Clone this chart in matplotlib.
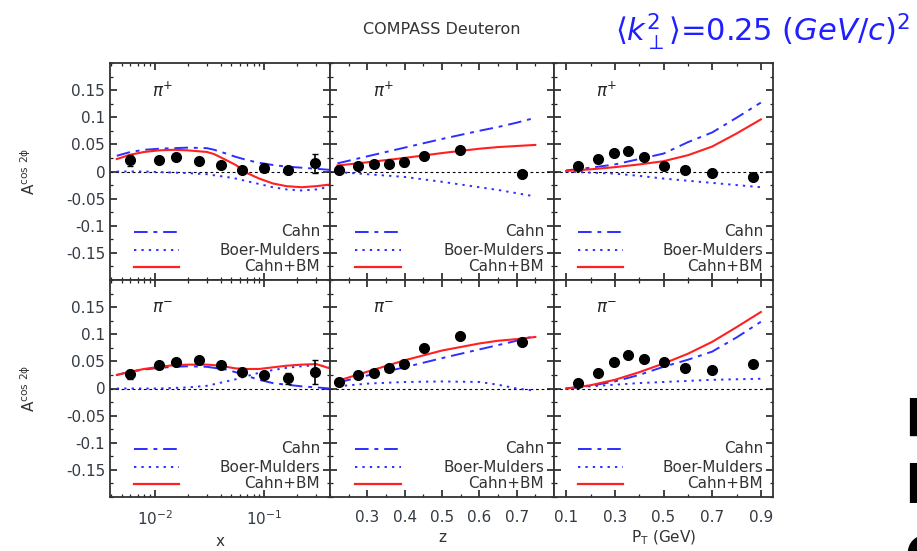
import matplotlib
matplotlib.use('Agg')
import matplotlib.pyplot as plt
from matplotlib.ticker import MultipleLocator, FixedLocator, NullFormatter, LogLocator

plt.rcParams['axes.unicode_minus'] = False

# x panel (log scale) - curve grid and data
x_curve = [0.0045, 0.006, 0.008, 0.011, 0.015, 0.02, 0.03, 0.035, 0.045, 0.055,
           0.07, 0.09, 0.12, 0.16, 0.22, 0.3, 0.4]
cahn_x_plus = [0.029, 0.036, 0.040, 0.042, 0.043, 0.044, 0.043, 0.040, 0.033, 0.027,
               0.021, 0.016, 0.012, 0.009, 0.007, 0.005, 0.003]
bm_x_plus = [0.000, 0.000, 0.000, -0.001, -0.002, -0.003, -0.005, -0.007, -0.010, -0.013,
             -0.018, -0.023, -0.029, -0.033, -0.035, -0.033, -0.028]
sum_x_plus = [0.023, 0.031, 0.036, 0.039, 0.040, 0.039, 0.036, 0.032, 0.021, 0.012,
              -0.003, -0.013, -0.022, -0.027, -0.029, -0.027, -0.024]
cahn_x_minus = [0.025, 0.031, 0.035, 0.038, 0.040, 0.041, 0.040, 0.038, 0.035, 0.030,
                0.023, 0.016, 0.010, 0.007, 0.004, 0.002, 0.000]
bm_x_minus = [0.000, 0.000, 0.000, 0.000, 0.001, 0.002, 0.005, 0.008, 0.013, 0.017,
              0.023, 0.029, 0.034, 0.038, 0.041, 0.043, 0.040]
sum_x_minus = [0.025, 0.031, 0.036, 0.040, 0.043, 0.044, 0.044, 0.043, 0.040, 0.037,
               0.036, 0.036, 0.039, 0.042, 0.044, 0.045, 0.037]

x_data = [0.0059, 0.0109, 0.0158, 0.0252, 0.040, 0.063, 0.100, 0.165, 0.29]
a_x_plus = [0.021, 0.022, 0.026, 0.020, 0.012, 0.002, 0.006, 0.002, 0.015]
err_x_plus = [0.010, 0.004, 0.004, 0.004, 0.004, 0.004, 0.005, 0.007, 0.018]
a_x_minus = [0.026, 0.043, 0.049, 0.052, 0.043, 0.030, 0.025, 0.019, 0.030]
err_x_minus = [0.008, 0.004, 0.004, 0.004, 0.004, 0.004, 0.006, 0.010, 0.022]

# z panel
z_curve = [0.22, 0.3, 0.4, 0.5, 0.6, 0.65, 0.7, 0.75]
cahn_z_plus = [0.015, 0.028, 0.044, 0.060, 0.075, 0.082, 0.090, 0.099]
bm_z_plus = [-0.001, -0.005, -0.010, -0.019, -0.029, -0.034, -0.040, -0.046]
sum_z_plus = [0.011, 0.017, 0.025, 0.034, 0.042, 0.045, 0.047, 0.049]
cahn_z_minus = [0.011, 0.024, 0.039, 0.056, 0.072, 0.080, 0.088, 0.097]
bm_z_minus = [0.004, 0.009, 0.012, 0.013, 0.012, 0.007, 0.000, -0.004]
sum_z_minus = [0.014, 0.031, 0.052, 0.070, 0.083, 0.088, 0.091, 0.095]

z_data = [0.225, 0.276, 0.319, 0.359, 0.398, 0.452, 0.548, 0.714]
a_z_plus = [0.002, 0.011, 0.014, 0.014, 0.017, 0.029, 0.040, -0.005]
err_z_plus = [0.004, 0.004, 0.004, 0.005, 0.006, 0.005, 0.004, 0.006]
a_z_minus = [0.012, 0.024, 0.029, 0.037, 0.046, 0.074, 0.096, 0.086]
err_z_minus = [0.004, 0.004, 0.004, 0.005, 0.006, 0.005, 0.005, 0.006]

# P_T panel
pt_curve = [0.1, 0.2, 0.3, 0.4, 0.5, 0.6, 0.7, 0.8, 0.9]
cahn_pt_plus = [0.002, 0.007, 0.013, 0.023, 0.033, 0.054, 0.072, 0.099, 0.127]
bm_pt_plus = [0.000, -0.002, -0.004, -0.008, -0.013, -0.017, -0.021, -0.025, -0.029]
sum_pt_plus = [0.001, 0.004, 0.008, 0.013, 0.019, 0.030, 0.046, 0.070, 0.096]
cahn_pt_minus = [0.000, 0.005, 0.013, 0.025, 0.040, 0.053, 0.068, 0.094, 0.123]
bm_pt_minus = [0.000, 0.004, 0.007, 0.010, 0.012, 0.014, 0.016, 0.017, 0.018]
sum_pt_minus = [0.000, 0.006, 0.016, 0.030, 0.046, 0.064, 0.086, 0.113, 0.141]

pt_data = [0.150, 0.232, 0.297, 0.355, 0.42, 0.502, 0.588, 0.698, 0.867]
a_pt_plus = [0.010, 0.023, 0.035, 0.037, 0.027, 0.011, 0.003, -0.002, -0.010]
err_pt_plus = [0.004, 0.004, 0.004, 0.004, 0.004, 0.004, 0.004, 0.004, 0.005]
a_pt_minus = [0.011, 0.028, 0.048, 0.062, 0.055, 0.049, 0.038, 0.035, 0.046]
err_pt_minus = [0.004, 0.004, 0.004, 0.004, 0.004, 0.004, 0.004, 0.004, 0.005]

y_ticks = [-0.15, -0.1, -0.05, 0, 0.05, 0.1, 0.15]
y_tick_labels = ['-0.15', '-0.1', '-0.05', '0', '0.05', '0.1', '0.15']
legend_names = ['Cahn', 'Boer-Mulders', 'Cahn+BM']

BLUE = '#2e2eff'
RED = '#ff2020'
TICK_COLOR = '#333a44'
CAHN_DASH = (0, (7, 3, 2, 3))
BM_DOTS = (0, (1.2, 2.6))


def draw_panel(ax, xc, cahn, bm, total, xd, yd, err, label):
    ax.axhline(0, color='black', lw=0.8, ls=(0, (2.5, 2.5)), zorder=1)
    ax.plot(xc, cahn, color=BLUE, lw=1.4, ls=CAHN_DASH, zorder=2)
    ax.plot(xc, bm, color=BLUE, lw=1.4, ls=BM_DOTS, zorder=2)
    ax.plot(xc, total, color=RED, lw=1.5, zorder=3)
    ax.errorbar(xd, yd, yerr=err, fmt='o', color='black', ms=7, elinewidth=1.2,
                capsize=2, zorder=4)
    ax.set_ylim(-0.2, 0.2)
    ax.text(0.19, 0.87, label, transform=ax.transAxes, fontsize=12,
            family='DejaVu Serif', color='#222222', va='center')

    # legend drawn by hand: sample line on the left, name right aligned
    rows = [0.223, 0.138, 0.061]
    styles = [(BLUE, CAHN_DASH, 1.4), (BLUE, BM_DOTS, 1.4), (RED, '-', 1.6)]
    for yrow, name, (col, ls, lw) in zip(rows, legend_names, styles):
        ax.plot([0.11, 0.315], [yrow, yrow], transform=ax.transAxes,
                color=col, ls=ls, lw=lw)
        ax.text(0.955, yrow, name, transform=ax.transAxes, ha='right', va='center',
                fontsize=11, color='#333333')

    ax.yaxis.set_major_locator(FixedLocator(y_ticks))
    ax.yaxis.set_minor_locator(MultipleLocator(0.025))
    ax.tick_params(which='both', direction='in', top=True, right=True,
                   labelsize=11, labelcolor=TICK_COLOR, color='#222222')
    ax.tick_params(which='major', length=5, width=1.2)
    ax.tick_params(which='minor', length=2.5, width=0.9)
    for sp in ax.spines.values():
        sp.set_linewidth(1.3)
        sp.set_color('#333333')


fig = plt.figure(figsize=(9.17, 5.51), dpi=100)

W, H = 917.0, 551.0
lefts = [110, 330, 554]
rights = [330, 554, 773]
tops = [63, 280]
bottoms = [280, 497]

axes = []
for r in range(2):
    row = []
    for c in range(3):
        ax = fig.add_axes([lefts[c] / W, 1 - bottoms[r] / H,
                           (rights[c] - lefts[c]) / W, (bottoms[r] - tops[r]) / H])
        row.append(ax)
    axes.append(row)

panels = [
    [(x_curve, cahn_x_plus, bm_x_plus, sum_x_plus, x_data, a_x_plus, err_x_plus),
     (z_curve, cahn_z_plus, bm_z_plus, sum_z_plus, z_data, a_z_plus, err_z_plus),
     (pt_curve, cahn_pt_plus, bm_pt_plus, sum_pt_plus, pt_data, a_pt_plus, err_pt_plus)],
    [(x_curve, cahn_x_minus, bm_x_minus, sum_x_minus, x_data, a_x_minus, err_x_minus),
     (z_curve, cahn_z_minus, bm_z_minus, sum_z_minus, z_data, a_z_minus, err_z_minus),
     (pt_curve, cahn_pt_minus, bm_pt_minus, sum_pt_minus, pt_data, a_pt_minus, err_pt_minus)],
]
labels = [r'$\pi^{+}$', r'$\pi^{-}$']

for r in range(2):
    for c in range(3):
        ax = axes[r][c]
        if c == 0:
            ax.set_xscale('log')
        draw_panel(ax, *panels[r][c], labels[r])

        if c == 0:
            ax.set_xlim(0.0039, 0.40)
            ax.xaxis.set_major_locator(LogLocator(base=10, numticks=10))
            ax.xaxis.set_minor_locator(LogLocator(base=10, subs=range(2, 10), numticks=10))
            ax.xaxis.set_minor_formatter(NullFormatter())
        elif c == 1:
            ax.set_xlim(0.2, 0.8)
            ax.xaxis.set_major_locator(FixedLocator([0.3, 0.4, 0.5, 0.6, 0.7]))
            ax.xaxis.set_minor_locator(MultipleLocator(0.05))
        else:
            ax.set_xlim(0.05, 0.95)
            ax.xaxis.set_major_locator(FixedLocator([0.1, 0.3, 0.5, 0.7, 0.9]))
            ax.xaxis.set_minor_locator(MultipleLocator(0.1))

        if c == 0:
            ax.set_yticklabels(y_tick_labels)
            ax.set_ylabel(r'A$^{\mathregular{cos\ 2\phi}}$', fontsize=11,
                          color='#333333', labelpad=20)
        else:
            ax.tick_params(labelleft=False)
        if r == 0:
            ax.tick_params(labelbottom=False)
        else:
            ax.tick_params(axis='x', pad=9)

axes[1][0].set_xlabel('x', fontsize=11, color='#333333', labelpad=4)
axes[1][1].set_xlabel('z', fontsize=11, color='#333333', labelpad=4)
axes[1][2].set_xlabel(r'P$_\mathregular{T}$ (GeV)', fontsize=11, color='#333333', labelpad=3)

fig.text(442 / W, 1 - 30 / H, 'COMPASS Deuteron', ha='center', va='center',
         fontsize=11.5, color='#333333')
fig.text(615 / W, 1 - 32 / H, r'$\langle k_\perp^2\rangle$=0.25 $(GeV/c)^2$',
         ha='left', va='center', fontsize=22, color='#1f1fff')

# slide text cut at the right border
for letter, ybase in zip(['R', 'E', 'C'], [437, 502, 574]):
    fig.text(904 / W, 1 - ybase / H, letter, ha='left', va='baseline',
             fontsize=38, fontweight='bold', color='black')

fig.savefig('out.png', dpi=100)
